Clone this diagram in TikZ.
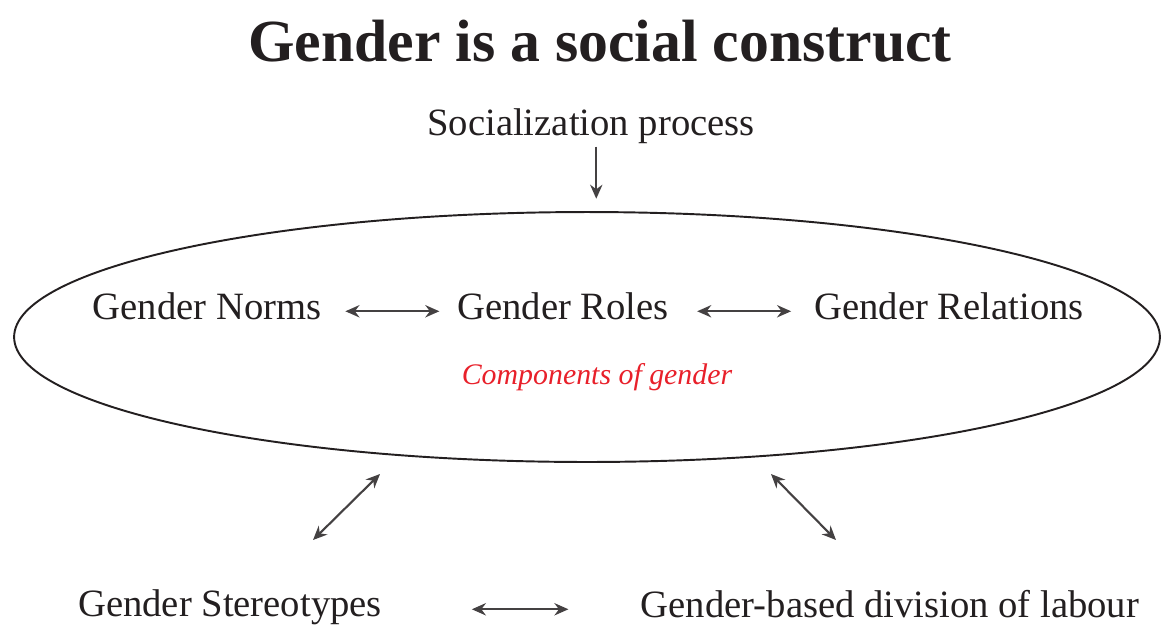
\documentclass[tikz,border=0pt]{standalone}
\usepackage{fontspec}
\setmainfont{Liberation Serif}
\usetikzlibrary{shapes.geometric,arrows.meta}
\definecolor{ink}{RGB}{35,31,32}
\definecolor{comp}{RGB}{232,32,42}
\tikzset{
  part/.style={inner sep=0pt, text=ink, font=\fontsize{22}{26}\selectfont},
  link/.style={{Stealth[length=8pt,width=7pt]}-{Stealth[length=8pt,width=7pt]}, line width=1.2pt, ink!85},
  feed/.style={-{Stealth[length=8pt,width=7pt]}, line width=1.2pt, ink!85}
}
\begin{document}
\begin{tikzpicture}[x=0.02cm,y=-0.02cm]
\useasboundingbox (0,0) rectangle (1162,626);
\node[text=ink, font=\bfseries\fontsize{34}{40}\selectfont] (title) at (600,41) {Gender is a social construct};
\node[part] (social) at (591,126) {Socialization process};
\node[draw=ink, ellipse, line width=1.1pt, inner sep=0pt, minimum width=22.92cm, minimum height=5cm] (ring) at (587,337) {};
\node[part] (norms) at (207,306) {Gender Norms};
\node[part] (roles) at (563,306) {Gender Roles};
\node[part] (rel) at (949,306) {Gender Relations};
\node[text=comp, font=\itshape\fontsize{17}{20}\selectfont] (comps) at (597,377) {Components of gender};
\node[part] (stereo) at (230,607) {Gender Stereotypes};
\node[part] (labour) at (890,604) {Gender-based division of labour};
\coordinate (sw-top) at (380,474);
\coordinate (sw-bot) at (313,540);
\coordinate (se-top) at (771,474);
\coordinate (se-bot) at (836,540);
\draw[feed, shorten <=1.5pt, shorten >=7pt] ([xshift=3pt]social.south) -- ([xshift=3pt]social.south |- ring.north);
\draw[link, shorten <=13.5pt, shorten >=10pt] ([yshift=-3pt]norms.east) -- ([yshift=-3pt]roles.west);
\draw[link, shorten <=16pt, shorten >=13pt] ([yshift=-3pt]roles.east) -- ([yshift=-3pt]rel.west);
\draw[link] (sw-top) -- (sw-bot);
\draw[link] (se-top) -- (se-bot);
\draw[link, shorten <=51pt, shorten >=41pt] ([yshift=-3pt]stereo.east |- labour.west) -- ([yshift=-3pt]labour.west);
\end{tikzpicture}
\end{document}
